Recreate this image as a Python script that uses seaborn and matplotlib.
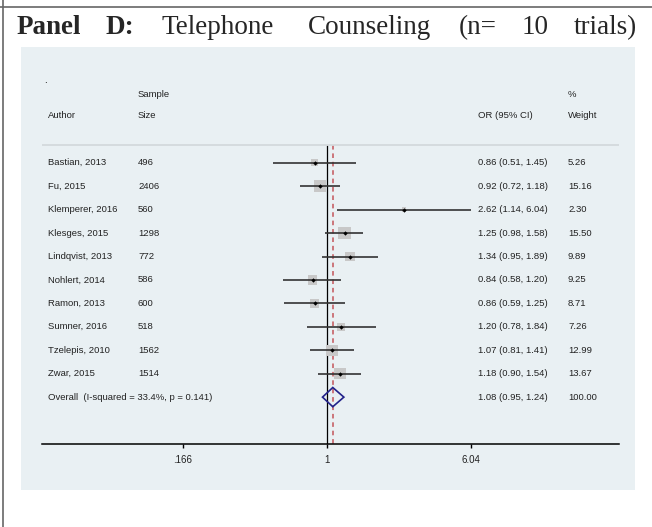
import numpy as np
import pandas as pd
import matplotlib.pyplot as plt
import seaborn as sns
from matplotlib.patches import Rectangle
from matplotlib.lines import Line2D

# study level data
authors = ["Bastian, 2013", "Fu, 2015", "Klemperer, 2016", "Klesges, 2015",
           "Lindqvist, 2013", "Nohlert, 2014", "Ramon, 2013", "Sumner, 2016",
           "Tzelepis, 2010", "Zwar, 2015"]
sample_sizes = [496, 2406, 560, 1298, 772, 586, 600, 518, 1562, 1514]
odds_ratio = [0.86, 0.92, 2.62, 1.25, 1.34, 0.84, 0.86, 1.20, 1.07, 1.18]
ci_low = [0.51, 0.72, 1.14, 0.98, 0.95, 0.58, 0.59, 0.78, 0.81, 0.90]
ci_high = [1.45, 1.18, 6.04, 1.58, 1.89, 1.20, 1.25, 1.84, 1.41, 1.54]
weights = [5.26, 15.16, 2.30, 15.50, 9.89, 9.25, 8.71, 7.26, 12.99, 13.67]

overall_label = "Overall  (I-squared = 33.4%, p = 0.141)"
overall_or = 1.08
overall_low = 0.95
overall_high = 1.24
overall_weight = 100.00

x_ticks = [0.166, 1, 6.04]
x_tick_labels = [".166", "1", "6.04"]

df = pd.DataFrame({"author": authors, "n": sample_sizes, "OR": odds_ratio,
                   "lo": ci_low, "hi": ci_high, "w": weights})
df["row"] = np.arange(len(df))
overall_row = len(df)

sns.set_style("white")
plt.rcParams["font.family"] = ["Liberation Sans", "DejaVu Sans"]

W, H = 652, 527
fig = plt.figure(figsize=(W / 100, H / 100), dpi=100)

# light grey-blue graph region
fig.patches.append(Rectangle((21 / W, 1 - 490 / H), 614 / W, 443 / H,
                             transform=fig.transFigure, facecolor="#e9f0f3",
                             edgecolor="none", zorder=-5))
# page border lines
fig.add_artist(Line2D([0, 1], [1 - 7 / H, 1 - 7 / H], color="#666666", lw=1.2))
fig.add_artist(Line2D([3 / W, 3 / W], [0, 1], color="#666666", lw=1.2))

# title, words spread out like justified text
title_words = [("Panel", 17, "bold"), ("D:", 106, "bold"), ("Telephone", 162, "normal"),
               ("Counseling", 308, "normal"), ("(n=", 459, "normal"),
               ("10", 522, "normal"), ("trials)", 574, "normal")]
for word, xpx, wt in title_words:
    fig.text(xpx / W, 1 - 34 / H, word, fontsize=19.5, fontweight=wt,
             family="Liberation Serif", va="baseline", ha="left")

ax = fig.add_axes([41.6 / W, 1 - 444 / H, 577.4 / W, 375 / H])
ax.set_facecolor("none")
ax.set_xscale("log")
ax.set_xlim(np.exp(-3.554), np.exp(3.646))
ax.set_ylim(12, -4)

# weight boxes
sns.scatterplot(data=df, x="OR", y="row", size="w", sizes=(0, 498), size_norm=(0, 100),
                marker="s", color="#c8c8c8", linewidth=0, legend=False, ax=ax, zorder=2)
ax.hlines(df["row"], df["lo"], df["hi"], color="#333333", lw=1.2, zorder=3)
sns.scatterplot(data=df, x="OR", y="row", marker="D", s=5, color="black",
                linewidth=0, legend=False, ax=ax, zorder=4)

sep_y = -0.76
ax.vlines(1, sep_y, 12, color="black", lw=0.9, zorder=1)
ax.vlines(overall_or, sep_y, 12, color="#c4545a", lw=1.1, linestyles=(0, (3, 2.5)), zorder=1)

# overall diamond
h = 0.41
ax.fill([overall_low, overall_or, overall_high, overall_or, overall_low],
        [overall_row, overall_row - h, overall_row, overall_row + h, overall_row],
        facecolor="none", edgecolor="#22228a", lw=1.2, zorder=5)

# header separator
ax.axhline(sep_y, color="#d3d9dc", lw=1.3, zorder=1)

tr = ax.get_yaxis_transform()
col_author = (48 - 41.6) / 577.4
col_size = (138 - 41.6) / 577.4
col_or = (478 - 41.6) / 577.4
col_wt = (568 - 41.6) / 577.4
txt = dict(transform=tr, fontsize=6.8, va="center", ha="left", color="#222222")

ax.text((44 - 41.6) / 577.4, -3.53, ".", **txt)
ax.text(col_size, -2.93, "Sample", **txt)
ax.text(col_wt, -2.93, "%", **txt)
ax.text(col_author, -2.0, "Author", **txt)
ax.text(col_size, -2.0, "Size", **txt)
ax.text(col_or, -2.0, "OR (95% CI)", **txt)
ax.text(col_wt, -2.0, "Weight", **txt)

for _, r in df.iterrows():
    ax.text(col_author, r["row"], r["author"], **txt)
    ax.text(col_size, r["row"], str(int(r["n"])), **txt)
    ax.text(col_or, r["row"], f"{r['OR']:.2f} ({r['lo']:.2f}, {r['hi']:.2f})", **txt)
    ax.text(col_wt, r["row"], f"{r['w']:.2f}", **txt)

ax.text(col_author, overall_row, overall_label, **txt)
ax.text(col_or, overall_row,
        f"{overall_or:.2f} ({overall_low:.2f}, {overall_high:.2f})", **txt)
ax.text(col_wt, overall_row, f"{overall_weight:.2f}", **txt)

for s in ["top", "left", "right"]:
    ax.spines[s].set_visible(False)
ax.spines["bottom"].set_color("black")
ax.spines["bottom"].set_linewidth(1.1)
ax.set_yticks([])
ax.set_xticks(x_ticks)
ax.set_xticklabels(x_tick_labels)
ax.minorticks_off()
ax.tick_params(axis="x", direction="out", length=3, width=1, labelsize=7,
               pad=5, colors="black", labelcolor="#222222", bottom=True)
ax.set_xlabel("")
ax.set_ylabel("")

fig.savefig("out.png", dpi=100)
